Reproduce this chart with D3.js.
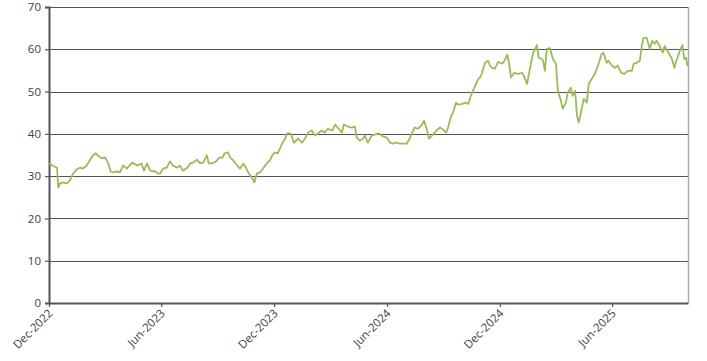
<!DOCTYPE html>
<html>
<head>
<meta charset="utf-8">
<script src="https://cdn.jsdelivr.net/npm/d3@7"></script>
<style>
  html, body { margin: 0; padding: 0; background: #fff; }
  svg { display: block; }
  text { font-family: "Open Sans", "DejaVu Sans", sans-serif; }
</style>
</head>
<body>
<svg id="chart" width="707" height="361"></svg>
<script>
const dates = [
"2022-12-01","2022-12-07","2022-12-14","2022-12-16","2022-12-19","2022-12-23","2022-12-30",
"2023-01-04","2023-01-09","2023-01-15","2023-01-20","2023-01-25","2023-01-31",
"2023-02-05","2023-02-10","2023-02-15","2023-02-18","2023-02-25",
"2023-03-02","2023-03-07","2023-03-11","2023-03-15","2023-03-21","2023-03-26","2023-03-31",
"2023-04-06","2023-04-15","2023-04-23","2023-04-30",
"2023-05-04","2023-05-09","2023-05-14","2023-05-22","2023-05-27","2023-05-30",
"2023-06-04","2023-06-10","2023-06-15","2023-06-20","2023-06-27",
"2023-07-01","2023-07-06","2023-07-13","2023-07-18","2023-07-23","2023-07-29",
"2023-08-03","2023-08-08","2023-08-14","2023-08-17","2023-08-22","2023-08-29",
"2023-09-03","2023-09-08","2023-09-12","2023-09-17","2023-09-21","2023-09-26",
"2023-10-02","2023-10-07","2023-10-12","2023-10-17","2023-10-21","2023-10-26","2023-10-30",
"2023-11-03","2023-11-08","2023-11-13","2023-11-20","2023-11-24","2023-11-28",
"2023-12-02","2023-12-07","2023-12-14","2023-12-19","2023-12-22","2023-12-28",
"2024-01-02","2024-01-09","2024-01-15","2024-01-20","2024-01-25","2024-01-31",
"2024-02-05","2024-02-10","2024-02-16","2024-02-21","2024-02-26",
"2024-03-04","2024-03-09","2024-03-13","2024-03-20","2024-03-23","2024-03-30",
"2024-04-05","2024-04-10","2024-04-13","2024-04-18","2024-04-23","2024-04-26",
"2024-05-01","2024-05-07","2024-05-12","2024-05-19","2024-05-25",
"2024-06-01","2024-06-06","2024-06-10","2024-06-17","2024-06-22","2024-06-27",
"2024-07-03","2024-07-08","2024-07-11","2024-07-16","2024-07-21","2024-07-27","2024-07-31",
"2024-08-05","2024-08-08","2024-08-13","2024-08-16","2024-08-22","2024-08-26","2024-08-31",
"2024-09-05","2024-09-08","2024-09-13","2024-09-16","2024-09-21","2024-09-24",
"2024-10-01","2024-10-06","2024-10-11","2024-10-14","2024-10-17","2024-10-22","2024-10-27","2024-10-30",
"2024-11-02","2024-11-07","2024-11-12","2024-11-15","2024-11-18","2024-11-23","2024-11-28",
"2024-12-05","2024-12-10","2024-12-13","2024-12-16","2024-12-19","2024-12-24","2024-12-30",
"2025-01-06","2025-01-09","2025-01-14","2025-01-19","2025-01-24","2025-01-30",
"2025-02-02","2025-02-07","2025-02-09","2025-02-12","2025-02-15","2025-02-20","2025-02-25",
"2025-03-02","2025-03-05","2025-03-10","2025-03-13","2025-03-18","2025-03-21","2025-03-26","2025-03-29",
"2025-04-02","2025-04-05","2025-04-08","2025-04-13","2025-04-16","2025-04-21","2025-04-24","2025-04-29",
"2025-05-04","2025-05-09","2025-05-15","2025-05-18","2025-05-23","2025-05-26",
"2025-06-01","2025-06-05","2025-06-10","2025-06-16","2025-06-21","2025-06-26",
"2025-07-03","2025-07-06","2025-07-11","2025-07-16","2025-07-19","2025-07-22","2025-07-27",
"2025-08-01","2025-08-05","2025-08-09","2025-08-12","2025-08-17","2025-08-22","2025-08-25","2025-08-30",
"2025-09-06","2025-09-10","2025-09-13","2025-09-20","2025-09-23","2025-09-26","2025-09-29","2025-10-01"
];
const values = [
33.0,32.5,32.0,27.3,28.3,28.5,28.3,
29.0,30.6,31.6,32.0,31.8,32.5,
33.7,34.9,35.4,34.9,34.2,
34.4,33.0,31.1,30.9,31.1,30.9,32.5,
31.8,33.2,32.5,33.0,
31.3,33.0,31.3,31.1,30.6,30.6,
31.8,32.0,33.5,32.5,32.0,
32.5,31.3,32.0,33.0,33.2,33.9,
33.0,33.2,34.9,33.0,33.0,33.5,
34.4,34.4,35.4,35.6,34.4,33.7,
32.5,31.8,33.0,31.8,30.6,29.7,28.5,
30.6,30.9,31.8,33.2,33.7,34.9,
35.6,35.4,37.7,38.9,40.1,40.1,
37.9,38.9,37.9,38.9,40.3,40.8,
39.6,40.1,40.8,40.3,41.2,
40.8,42.2,41.5,40.3,42.2,41.7,
41.5,41.7,39.1,38.4,38.9,39.6,
37.9,39.6,39.8,40.1,39.4,
39.1,37.9,37.7,37.9,37.7,37.7,
37.7,38.9,40.1,41.5,41.2,42.0,43.1,
40.8,38.9,39.6,40.1,41.0,41.5,41.0,
40.3,41.5,44.3,45.0,47.4,46.9,
47.1,47.4,47.1,48.6,49.7,51.4,53.0,53.3,
54.4,56.8,57.3,56.1,55.6,55.4,57.0,
56.6,57.7,58.7,56.6,53.3,54.4,54.2,
54.4,53.7,51.8,55.6,59.2,61.0,
58.0,57.7,57.3,54.9,60.1,60.3,57.7,
56.6,50.2,47.8,46.0,47.4,49.7,50.9,49.0,
50.2,44.3,42.7,46.2,48.3,47.4,51.8,53.0,
54.2,56.1,58.9,59.2,56.8,57.3,
56.1,55.6,56.1,54.4,54.2,54.9,
54.9,56.6,56.8,57.3,60.8,62.7,62.7,
60.1,62.0,61.3,62.0,60.8,59.2,60.8,59.6,
57.7,55.6,57.3,60.1,61.0,57.7,58.0,56.0
];
const xTickDates = ["2022-12-01","2023-06-01","2023-12-01","2024-06-01","2024-12-01","2025-06-01"];
const yTicks = [0,10,20,30,40,50,60,70];
const xDomain = ["2022-12-01","2025-10-02"];
const yDomain = [0,70];

const parse = d3.utcParse("%Y-%m-%d");
const fmt = d3.utcFormat("%b-%Y");
const data = dates.map((d,i) => ({date: parse(d), value: values[i]}));

const svg = d3.select("#chart");
const m = {left: 49, right: 19, top: 7, bottom: 58};
const W = 707, H = 361;
const x = d3.scaleUtc().domain(xDomain.map(parse)).range([m.left, W - m.right]);
const y = d3.scaleLinear().domain(yDomain).range([H - m.bottom, m.top]);

// gridlines
svg.append("g").selectAll("line").data(yTicks.filter(t => t > 0)).join("line")
  .attr("x1", m.left).attr("x2", W - m.right)
  .attr("y1", d => Math.round(y(d)) + 0.5).attr("y2", d => Math.round(y(d)) + 0.5)
  .attr("stroke", "#555").attr("stroke-width", 1.2);

// right border
svg.append("line")
  .attr("x1", W - m.right + 0.5).attr("x2", W - m.right + 0.5)
  .attr("y1", y(70)).attr("y2", y(0))
  .attr("stroke", "#aaa").attr("stroke-width", 1.5);

// y axis
const yAxis = svg.append("g").attr("transform", `translate(${m.left},0)`)
  .call(d3.axisLeft(y).tickValues(yTicks).tickSize(4).tickPadding(4).tickFormat(d3.format("d")));
yAxis.select(".domain").attr("stroke", "#555").attr("stroke-width", 2);
yAxis.selectAll(".tick line").attr("stroke", "#555").attr("stroke-width", 1.2);
yAxis.selectAll("text").attr("fill", "#404040").attr("font-size", 11.5);

// x axis
const xAxis = svg.append("g").attr("transform", `translate(0,${H - m.bottom})`)
  .call(d3.axisBottom(x).tickValues(xTickDates.map(parse)).tickSize(4).tickSizeOuter(0).tickFormat(fmt));
xAxis.select(".domain").attr("stroke", "#555").attr("stroke-width", 2);
xAxis.selectAll(".tick line").attr("stroke", "#555").attr("stroke-width", 1.2);
xAxis.selectAll("text")
  .attr("fill", "#404040").attr("font-size", 11.5)
  .attr("text-anchor", "end")
  .attr("dy", 0).attr("y", 0)
  .attr("transform", "translate(4,11) rotate(-45)");

// line
svg.append("path").datum(data)
  .attr("fill", "none")
  .attr("stroke", "#9bbb59")
  .attr("stroke-width", 1.8)
  .attr("stroke-linejoin", "round")
  .attr("d", d3.line().x(d => x(d.date)).y(d => y(d.value)));
</script>
</body>
</html>
